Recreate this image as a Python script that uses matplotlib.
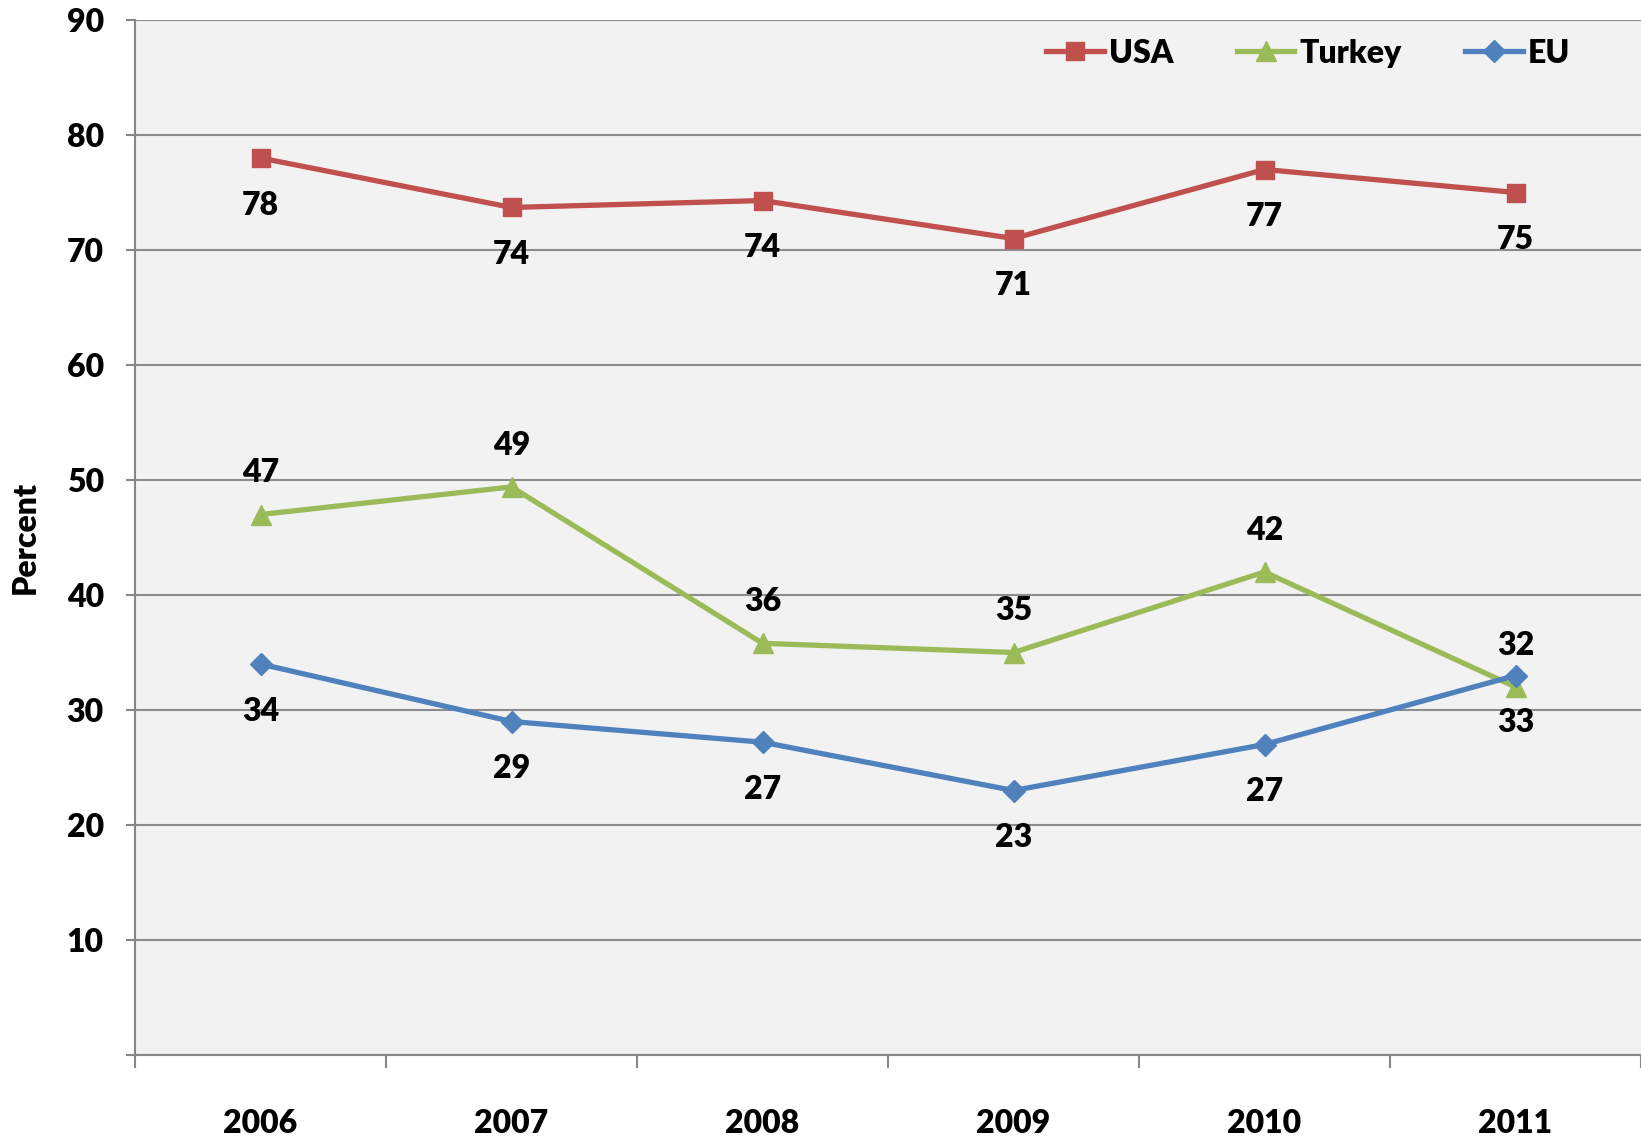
import numpy as np
import matplotlib
matplotlib.use("Agg")
import matplotlib.pyplot as plt

plt.rcParams['font.family'] = ['Lato', 'DejaVu Sans']
plt.rcParams['font.weight'] = 'heavy'

years = ['2006', '2007', '2008', '2009', '2010', '2011']
usa = [78, 73.7, 74.3, 71, 77, 75]
turkey = [47, 49.4, 35.8, 35, 42, 32]
eu = [34, 29, 27.2, 23, 27, 33]

x = np.arange(len(years))
fs = 23

fig = plt.figure(figsize=(16.41, 11.40), dpi=100)
ax = fig.add_axes([135/1641, 1 - 1055/1140, 1 - 135/1641, 1035/1140])
ax.set_facecolor('#F2F2F2')

# series: values, colour, marker, marker size, label offset (points)
series = [
    ('USA', usa, '#C0504D', 's', 13, -34),
    ('Turkey', turkey, '#9BBB59', '^', 14, 30),
    ('EU', eu, '#4F81BD', 'D', 11, -34),
]

for name, vals, col, mk, ms, off in series:
    ax.plot(x, vals, color=col, lw=3.8, marker=mk, markersize=ms, label=name, zorder=3)
    for xi, v in zip(x, vals):
        ax.annotate(f'{v:.0f}', (xi, v), xytext=(0, off), textcoords='offset points',
                    ha='center', va='center', fontsize=fs, fontweight='heavy')

ax.set_xlim(-0.5, 5.5)
ax.set_ylim(0, 90)

ax.set_yticks(np.arange(0, 91, 10))
ax.set_yticklabels([''] + [str(v) for v in range(10, 91, 10)])
ax.yaxis.grid(True, color='#8C8C8C', lw=1.5)
ax.set_axisbelow(True)

ax.set_xticks(x)
ax.set_xticklabels(years)
ax.set_xticks(np.arange(-0.5, 6, 1), minor=True)
ax.tick_params(axis='x', which='major', length=0, pad=39, labelsize=fs)
ax.tick_params(axis='x', which='minor', length=9, width=1.5, color='#878787', direction='out')
ax.tick_params(axis='y', length=6.5, width=1.5, color='#878787', pad=16, labelsize=fs)

for s in ['top', 'right']:
    ax.spines[s].set_visible(False)
for s in ['left', 'bottom']:
    ax.spines[s].set_color('#878787')
    ax.spines[s].set_linewidth(1.5)

ax.set_ylabel('Percent', fontsize=fs, fontweight='heavy')
ax.yaxis.set_label_coords(-0.063, 0.5)

ax.legend(loc='center right', bbox_to_anchor=(0.972, 0.968), ncol=3, frameon=False,
          handlelength=1.8, handletextpad=0.15, columnspacing=2.0,
          prop={'weight': 'heavy', 'size': fs})

fig.savefig('out.png', dpi=100)
